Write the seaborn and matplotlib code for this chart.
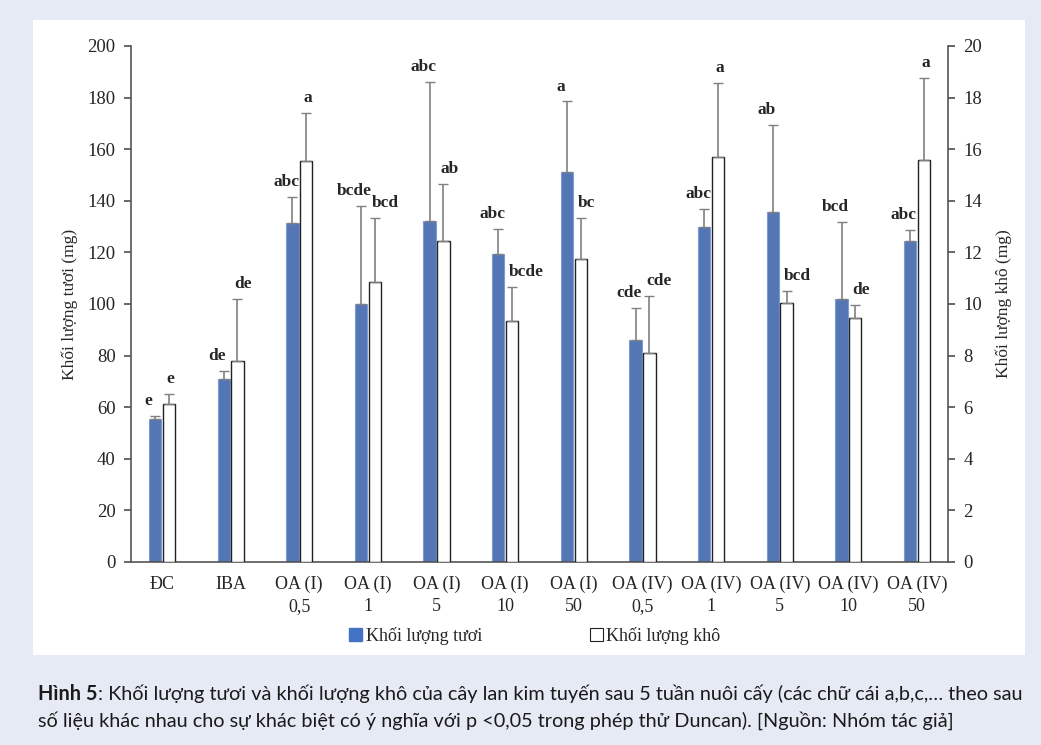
import numpy as np
import pandas as pd
import matplotlib
matplotlib.use("Agg")
import matplotlib.pyplot as plt
from matplotlib.patches import Patch, Rectangle
import seaborn as sns

sns.set_theme(style="white")
plt.rcParams['font.family'] = ['Liberation Serif', 'DejaVu Serif']

# DATA
treatments = ["ĐC", "IBA", "OA (I)\n0,5", "OA (I)\n1", "OA (I)\n5", "OA (I)\n10", "OA (I)\n50",
              "OA (IV)\n0,5", "OA (IV)\n1", "OA (IV)\n5", "OA (IV)\n10", "OA (IV)\n50"]
fresh = [55.5, 71.0, 131.5, 100.0, 132.0, 119.2, 151.3, 86.2, 129.8, 135.8, 101.8, 124.5]
fresh_err = [1.0, 3.0, 10.0, 38.0, 54.0, 9.8, 27.2, 12.3, 7.0, 33.5, 30.0, 4.3]
fresh_letters = ["e", "de", "abc", "bcde", "abc", "abc", "a", "cde", "abc", "ab", "bcd", "abc"]
dry = [6.12, 7.78, 15.55, 10.85, 12.43, 9.35, 11.75, 8.12, 15.68, 10.02, 9.47, 15.57]
dry_err = [0.40, 2.42, 1.85, 2.50, 2.22, 1.30, 1.58, 2.18, 2.88, 0.48, 0.50, 3.20]
dry_letters = ["e", "de", "a", "bcd", "ab", "bcde", "bc", "cde", "a", "bcd", "de", "a"]

series = ["Khối lượng tươi", "Khối lượng khô"]
colors = {"Khối lượng tươi": "#4472c4", "Khối lượng khô": "#ffffff"}

# each axis gets both hue levels so the bars dodge; the other series is left empty
n = len(treatments)
df_fresh = pd.DataFrame({"treatment": treatments * 2,
                         "value": fresh + [np.nan] * n,
                         "series": [series[0]] * n + [series[1]] * n})
df_dry = pd.DataFrame({"treatment": treatments * 2,
                       "value": [np.nan] * n + dry,
                       "series": [series[0]] * n + [series[1]] * n})

W, H = 1041, 745
fig = plt.figure(figsize=(W / 100, H / 100), dpi=100)
fig.patch.set_facecolor("#e6eaf5")
fig.add_artist(Rectangle((33 / W, 1 - 655 / H), (1025 - 33) / W, (655 - 20) / H,
                         transform=fig.transFigure, facecolor="white", edgecolor="none", zorder=0))

ax = fig.add_axes([131 / W, 1 - 562 / H, (948 - 131) / W, (562 - 46) / H])
ax.set_facecolor("none")
ax2 = ax.twinx()

sns.barplot(data=df_fresh, x="treatment", y="value", hue="series", hue_order=series,
            order=treatments, palette=colors, width=0.4, gap=0.1, dodge=True, errorbar=None,
            ax=ax, legend=False, zorder=2)
sns.barplot(data=df_dry, x="treatment", y="value", hue="series", hue_order=series,
            order=treatments, palette=colors, width=0.4, gap=0.1, dodge=True, errorbar=None,
            ax=ax2, legend=False, zorder=2)

for p in ax.patches:
    p.set_edgecolor("#7d9bd6")
    p.set_linewidth(0.8)
for p in ax2.patches:
    p.set_edgecolor("#222222")
    p.set_linewidth(1.0)

def add_err(axis, bars, errs, letters, dx, ha):
    for bar, e, lab in zip(bars, errs, letters):
        x = bar.get_x() + bar.get_width() / 2
        h = bar.get_height()
        axis.errorbar(x, h, yerr=[[0], [e]], fmt="none", ecolor="#808080",
                      elinewidth=1.2, capsize=3.5, capthick=1.0, zorder=3)
        axis.annotate(lab, (x, h + e), xytext=(dx, 5), textcoords="offset points",
                      ha=ha, va="bottom", fontsize=12.5, fontweight="bold")

def real_bars(axis):
    bars = [p for p in axis.patches if np.isfinite(p.get_height()) and p.get_height() > 0]
    return sorted(bars, key=lambda p: p.get_x())

add_err(ax, real_bars(ax), fresh_err, fresh_letters, -4.5, "center")
add_err(ax2, real_bars(ax2), dry_err, dry_letters, -2, "left")

ax.set_ylim(0, 200)
ax2.set_ylim(0, 20)
ax.set_yticks(np.arange(0, 201, 20))
ax2.set_yticks(np.arange(0, 21, 2))
ax.set_xlim(-0.45, 11.45)

ax.set_xlabel("")
ax.set_ylabel("Khối lượng tươi (mg)", fontsize=12.5, labelpad=7)
ax2.set_ylabel("Khối lượng khô (mg)", fontsize=12.5, labelpad=10, rotation=90)

for a in (ax, ax2):
    for s in a.spines.values():
        s.set_visible(False)
ax.spines["left"].set_visible(True)
ax.spines["bottom"].set_visible(True)
ax2.spines["right"].set_visible(True)
for s in (ax.spines["left"], ax.spines["bottom"], ax2.spines["right"]):
    s.set_color("#555555")
    s.set_linewidth(1.2)

ax.tick_params(axis="y", direction="out", length=5, color="#555555", labelsize=13.5, left=True, pad=6)
ax2.tick_params(axis="y", direction="out", length=5, color="#555555", labelsize=13.5, right=True, pad=6)
ax.tick_params(axis="x", bottom=False, labelsize=13, pad=4)
for lab in ax.get_xticklabels():
    lab.set_linespacing(1.4)

handles = [Patch(facecolor=colors[series[0]], edgecolor=colors[series[0]]),
           Patch(facecolor="white", edgecolor="#222222", linewidth=0.8)]
fig.legend(handles, series, loc="center", bbox_to_anchor=(535 / W, 1 - 636 / H), ncol=2,
           frameon=False, fontsize=13, handlelength=0.7, handleheight=0.7,
           handletextpad=0.2, columnspacing=6.0)

# caption: fit the first line to the panel width
cap_font = ['Lato', 'DejaVu Sans']
line1 = ": Khối lượng tươi và khối lượng khô của cây lan kim tuyến sau 5 tuần nuôi cấy (các chữ cái a,b,c,… theo sau"
line2 = "số liệu khác nhau cho sự khác biệt có ý nghĩa với p <0,05 trong phép thử Duncan). [Nguồn: Nhóm tác giả]"
fig.canvas.draw()
r = fig.canvas.get_renderer()
fs = 12.5
x0, x_end = 38, 1024
for _ in range(3):
    t1 = fig.text(x0 / W, 1 - 700 / H, "Hình 5", family=cap_font, fontsize=fs,
                  fontweight="bold", va="baseline", color="#1a1a1a")
    bb = t1.get_window_extent(r)
    t2 = fig.text(bb.x1 / W, 1 - 700 / H, line1, family=cap_font, fontsize=fs,
                  va="baseline", color="#1a1a1a")
    end = t2.get_window_extent(r).x1
    scale = (x_end - x0) / (end - x0)
    if abs(scale - 1) < 0.005:
        break
    t1.remove()
    t2.remove()
    fs *= scale
fig.text(x0 / W, 1 - 727 / H, line2, family=cap_font, fontsize=fs, va="baseline", color="#1a1a1a")

fig.savefig("out.png", dpi=100, facecolor=fig.get_facecolor())
